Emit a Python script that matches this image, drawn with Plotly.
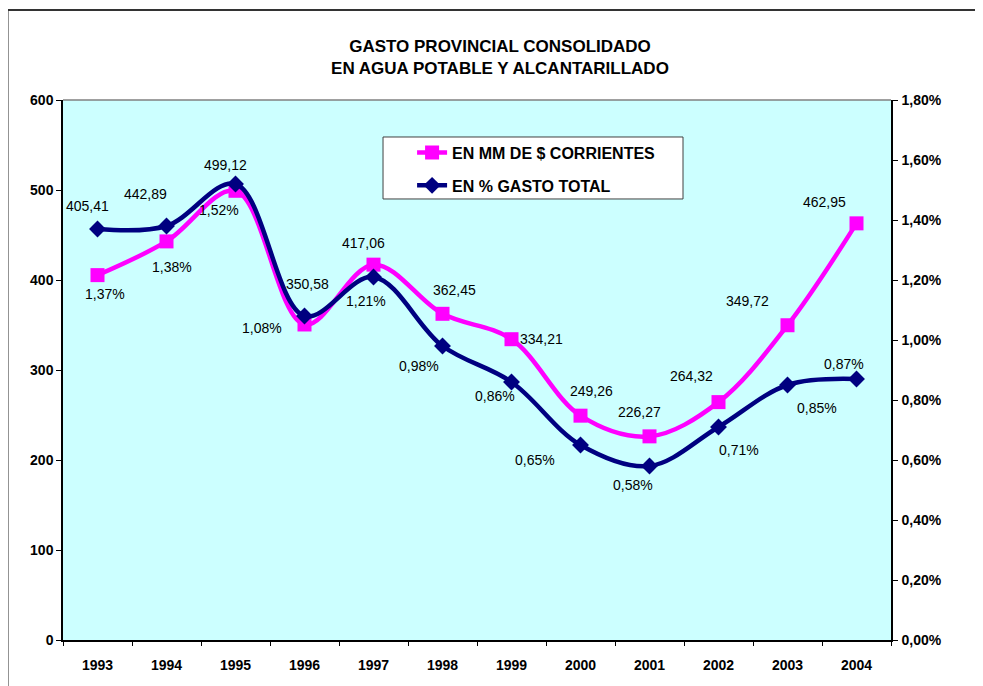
import plotly.graph_objects as go

years = ["1993", "1994", "1995", "1996", "1997", "1998",
         "1999", "2000", "2001", "2002", "2003", "2004"]
gasto_mm = [405.41, 442.89, 499.12, 350.58, 417.06, 362.45,
            334.21, 249.26, 226.27, 264.32, 349.72, 462.95]
gasto_pct = [1.37, 1.38, 1.52, 1.08, 1.21, 0.98,
             0.86, 0.65, 0.58, 0.71, 0.85, 0.87]

# hand-placed label offsets (px) like the original sheet
mm_offsets = [(-10, 69), (-21, 47), (-10, 26), (3, 40), (-10, 22), (12, 24),
              (30, 0), (11, 25), (-10, 24), (-27, 26), (-40, 24), (-32, 21)]
pct_offsets = [(7, -65), (5, -41), (-17, -26), (-43, -12), (-8, -24), (-24, -20),
               (-17, -14), (-46, -15), (-17, -19), (20, -23), (29, -23), (-13, 15)]

PINK = "#FF00FF"
NAVY = "#000080"
FONT = "Liberation Sans, Arial, sans-serif"

fig = go.Figure()

fig.add_trace(
    go.Scatter(
        x=years,
        y=gasto_mm,
        name="EN MM DE $ CORRIENTES",
        legendgroup="a",
        mode="lines+markers",
        line=dict(color=PINK, width=4.5, shape="spline"),
        marker=dict(symbol="square", size=14, color=PINK),
    )
)
fig.add_trace(
    go.Scatter(
        x=years,
        y=gasto_pct,
        name="EN % GASTO TOTAL",
        legendgroup="b",
        yaxis="y2",
        mode="lines+markers",
        line=dict(color=NAVY, width=4.5, shape="spline"),
        marker=dict(symbol="diamond", size=13, color=NAVY),
    )
)

# data labels (category index used as x position on the category axis)
for i, (v, (dx, dy)) in enumerate(zip(gasto_mm, mm_offsets)):
    fig.add_annotation(
        x=i, y=v, xref="x", yref="y", text=f"{v:.2f}".replace(".", ","),
        showarrow=False, xshift=dx, yshift=dy,
        font=dict(family=FONT, size=14, color="black"),
    )
for i, (v, (dx, dy)) in enumerate(zip(gasto_pct, pct_offsets)):
    fig.add_annotation(
        x=i, y=v, xref="x", yref="y2", text=f"{v:.2f}%".replace(".", ","),
        showarrow=False, xshift=dx, yshift=dy,
        font=dict(family=FONT, size=14, color="black"),
    )

# outer chart frame (cut at right / bottom) and legend box
fig.add_shape(type="rect", xref="paper", yref="paper",
              x0=-0.067, x1=1.3, y0=-0.3, y1=1.1667,
              line=dict(color="#333333", width=2), layer="below")
fig.add_shape(type="rect", xref="paper", yref="paper",
              x0=0.3865, x1=0.7488, y0=0.8167, y1=0.9315,
              line=dict(color="#404040", width=1), fillcolor="white", layer="below")
fig.add_shape(type="line", xref="paper", yref="paper",
              x0=0, x1=1, y0=1, y1=1, line=dict(color="#808080", width=1.5))

tick_font = dict(family=FONT, size=14, color="black", weight="bold")

# page body has an 8px margin, so the figure is shrunk by that amount
fig.update_layout(
    width=975,
    height=678,
    margin=dict(l=55, r=92, t=92, b=46),
    paper_bgcolor="white",
    plot_bgcolor="#CCFFFF",
    separators=",.",
    title=dict(
        text="GASTO PROVINCIAL CONSOLIDADO<br>EN AGUA POTABLE Y ALCANTARILLADO",
        font=dict(family=FONT, size=17, color="black", weight="bold"),
        x=0.5046, xanchor="center", xref="container",
        y=0.9355, yanchor="top", yref="container",
    ),
    showlegend=True,
    legend=dict(
        x=0.4216, y=0.934, xanchor="left", yanchor="top",
        bgcolor="rgba(0,0,0,0)", borderwidth=0,
        font=dict(family=FONT, size=16, color="black", weight="bold"),
        tracegroupgap=9,
    ),
    xaxis=dict(
        type="category",
        range=[-0.5, 11.5],
        tickson="boundaries",
        ticks="outside", ticklen=4, tickcolor="black",
        showline=True, linecolor="black", linewidth=1.5,
        showgrid=False, zeroline=False,
        tickfont=tick_font, ticklabelstandoff=11,
    ),
    yaxis=dict(
        range=[0, 600], dtick=100,
        ticks="outside", ticklen=5, tickcolor="black",
        showline=True, linecolor="black", linewidth=1.5,
        showgrid=False, zeroline=False,
        tickfont=tick_font, ticklabelstandoff=0,
    ),
    yaxis2=dict(
        overlaying="y", side="right",
        range=[0, 1.8], dtick=0.2, tickformat=".2f", ticksuffix="%",
        ticks="outside", ticklen=5, tickcolor="black",
        showline=True, linecolor="black", linewidth=1.5,
        showgrid=False, zeroline=False,
        tickfont=tick_font, ticklabelstandoff=1,
    ),
)

fig.write_html("out.html")
